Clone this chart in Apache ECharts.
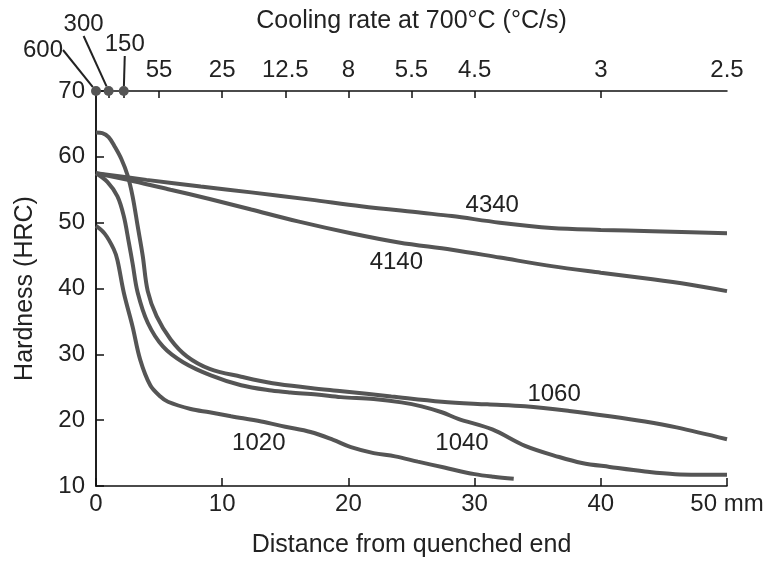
<!DOCTYPE html>
<html>
<head>
<meta charset="utf-8">
<script src="https://cdn.jsdelivr.net/npm/echarts@6/dist/echarts.min.js"></script>
<style>html,body{margin:0;padding:0;background:#fff}#c{width:769px;height:563px}</style>
</head>
<body>
<div id="c"></div>
<script>
// ---- data (x: distance from quenched end, mm; y: hardness, HRC) ----
const s1060 = [[0,63.7],[0.5,63.6],[1,63],[1.5,61.5],[2,59.7],[2.5,57.2],[2.9,54],[3.3,49.5],[3.7,45],[4.1,39.6],[4.8,35.8],[5.9,32.3],[7.2,29.7],[9,27.8],[11.5,26.6],[14,25.6],[17,24.9],[19.5,24.4],[23.4,23.6],[27.4,22.8],[31,22.4],[34,22.1],[37.5,21.4],[40.7,20.6],[43.5,19.8],[46,18.9],[50,17.1]];
const s1040 = [[0,57.5],[0.9,56.2],[1.7,54],[2.2,51],[2.6,47],[2.9,43.8],[3.3,39.4],[4.1,34.8],[5.3,31.2],[6.9,28.8],[9.1,26.8],[11.5,25.3],[13.9,24.5],[15.4,24.2],[17.5,23.9],[19.4,23.5],[22,23.2],[24.2,22.7],[25.8,22.1],[27.4,21.2],[28.7,20.2],[31.4,18.6],[34,16.1],[36.7,14.4],[38.5,13.5],[40.7,12.9],[43.5,12.2],[45.9,11.8],[50,11.7]];
const s1020 = [[0,49.5],[0.7,48.3],[1.4,46],[1.7,44.3],[2.2,39.4],[2.9,34.2],[3.5,29.2],[4.3,25.3],[5.1,23.6],[5.7,22.8],[7.5,21.7],[9,21.2],[10.7,20.6],[13.1,19.8],[15,19],[17,18.2],[18.8,17],[20.2,15.9],[22,15],[23.7,14.5],[25.5,13.7],[27.6,12.8],[30,11.8],[31.5,11.4],[33.1,11.1]];
const s4340 = [[0,57.5],[4,56.5],[8.3,55.5],[12.3,54.6],[17,53.5],[21,52.5],[25.8,51.5],[28.2,51],[32,50],[36.1,49.2],[40,48.9],[44.1,48.7],[50,48.4]];
const s4140 = [[0,57.5],[3,56.3],[5.9,55],[9,53.6],[12.3,52],[16,50.2],[20.2,48.4],[24,47],[28.2,45.9],[32,44.7],[36.1,43.4],[40,42.4],[44.1,41.4],[47,40.6],[50,39.6]];

const seriesNames = ['4340','4140','1060','1040','1020'];
const seriesData  = [s4340, s4140, s1060, s1040, s1020];
// label anchor points in data units (mm, HRC)
const labelAnchors = [[31.4,52.7],[23.8,43.9],[36.3,23.9],[29,16.4],[12.9,16.4]];

// top axis: cooling rate at 700 °C (°C/s) at given distances (mm)
const topTickPos    = [5, 10, 15, 20, 25, 30, 40, 50];
const topTickLabels = ['55','25','12.5','8','5.5','4.5','3','2.5'];
const topDotPos     = [0, 1, 2.2];
const topDotLabels  = ['600','300','150'];

// ---- chart ----
const FONT = 'Liberation Sans';
const FS = 24;
const FSN = 25;
const TXT = '#222';
const LINE = '#555';
const chart = echarts.init(document.getElementById('c'), null, {renderer: 'canvas'});

const lineSeries = seriesNames.map((n, i) => ({
  name: n, type: 'line', xAxisIndex: 0, yAxisIndex: 0,
  data: seriesData[i], showSymbol: false, symbol: 'none',
  smooth: 0.35, lineStyle: {color: LINE, width: 4},
  z: 3,
  markPoint: {
    symbol: 'circle', symbolSize: 0,
    label: {show: true, position: 'inside', formatter: n, color: TXT, fontFamily: FONT, fontSize: FS},
    data: [{coord: labelAnchors[i]}]
  }
}));

const dotOffsets = [[-53,-41],[-25,-67],[1,-47]];

chart.setOption({
  animation: false,
  backgroundColor: '#fff',
  grid: {left: 96, right: 42, top: 91, bottom: 76, containLabel: false},
  xAxis: [{
    type: 'value', position: 'bottom', min: 0, max: 50, interval: 10,
    name: 'Distance from quenched end', nameLocation: 'middle', nameGap: 47,
    nameTextStyle: {color: TXT, fontFamily: FONT, fontSize: FSN},
    axisLine: {show: true, lineStyle: {color: '#111', width: 1.5}},
    axisTick: {show: true, inside: true, length: 8, lineStyle: {color: '#111', width: 1.5}},
    axisLabel: {color: TXT, fontFamily: FONT, fontSize: FS, margin: 6,
      formatter: v => (v === 50 ? '50 mm' : String(v))},
    splitLine: {show: false}
  }, {
    type: 'value', position: 'top', min: 0, max: 50,
    name: 'Cooling rate at 700°C (°C/s)', nameLocation: 'middle', nameGap: 57,
    nameTextStyle: {color: TXT, fontFamily: FONT, fontSize: FSN},
    axisLine: {show: true, lineStyle: {color: '#111', width: 1.5}},
    axisTick: {show: true, inside: true, length: 7, customValues: [1, 2.2, 5, 10, 15, 20, 25, 30, 40],
      lineStyle: {color: '#111', width: 1.5}},
    axisLabel: {show: true, color: TXT, fontFamily: FONT, fontSize: FS, margin: 9,
      customValues: topTickPos,
      formatter: v => { const k = topTickPos.indexOf(v); return k >= 0 ? topTickLabels[k] : ''; }},
    splitLine: {show: false}
  }],
  yAxis: [{
    type: 'value', min: 10, max: 70, interval: 10,
    name: 'Hardness (HRC)', nameLocation: 'middle', nameGap: 58, nameRotate: 90,
    nameTextStyle: {color: TXT, fontFamily: FONT, fontSize: FSN},
    axisLine: {show: true, lineStyle: {color: '#111', width: 1.5}},
    axisTick: {show: true, inside: true, length: 8, lineStyle: {color: '#111', width: 1.5}},
    axisLabel: {color: TXT, fontFamily: FONT, fontSize: FS, margin: 11},
    splitLine: {show: false}
  }, {
    type: 'value', position: 'right', min: 10, max: 70,
    axisLine: {show: true, lineStyle: {color: '#111', width: 1.5}},
    axisTick: {show: false}, axisLabel: {show: false}, splitLine: {show: false}
  }],
  series: lineSeries.concat([{
    type: 'scatter', xAxisIndex: 1, yAxisIndex: 0,
    data: topDotPos.map((x, i) => ({value: [x, 70], name: topDotLabels[i]})),
    symbol: 'circle', symbolSize: 10, clip: false, z: 5,
    itemStyle: {color: LINE, opacity: 1},
    label: {show: true, position: 'inside', formatter: p => p.name,
      color: TXT, opacity: 1, fontFamily: FONT, fontSize: FS},
    labelLayout: p => ({dx: dotOffsets[p.dataIndex][0], dy: dotOffsets[p.dataIndex][1]}),
    labelLine: {show: true, lineStyle: {color: '#222', width: 2, opacity: 1}}
  }])
});
</script>
</body>
</html>
